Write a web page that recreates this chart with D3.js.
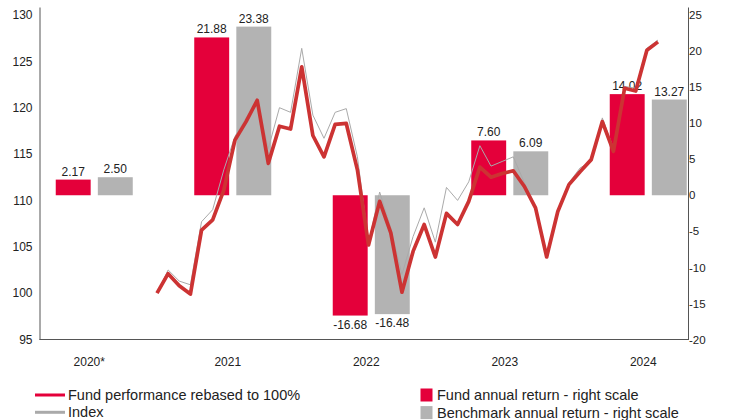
<!DOCTYPE html>
<html>
<head>
<meta charset="utf-8">
<script src="https://cdn.jsdelivr.net/npm/d3@7"></script>
<style>
  body { margin: 0; background: #fff; }
  svg { font-family: "Liberation Sans", Arial, sans-serif; display: block; }
</style>
</head>
<body>
<svg id="chart" width="729" height="420"></svg>
<script>
const years = ['2020*', '2021', '2022', '2023', '2024'];
const fundReturn = [2.17, 21.88, -16.68, 7.60, 14.02];
const benchReturn = [2.50, 23.38, -16.48, 6.09, 13.27];

// month-end points, Dec 2020 .. Sep 2024
const months = [
  '2020-12',
  '2021-01', '2021-02', '2021-03', '2021-04', '2021-05', '2021-06', '2021-07', '2021-08', '2021-09', '2021-10', '2021-11', '2021-12',
  '2022-01', '2022-02', '2022-03', '2022-04', '2022-05', '2022-06', '2022-07', '2022-08', '2022-09', '2022-10', '2022-11', '2022-12',
  '2023-01', '2023-02', '2023-03', '2023-04', '2023-05', '2023-06', '2023-07', '2023-08', '2023-09', '2023-10', '2023-11', '2023-12',
  '2024-01', '2024-02', '2024-03', '2024-04', '2024-05', '2024-06', '2024-07', '2024-08', '2024-09'
];
const fundLine = [
  100.0,
  102.1, 100.8, 99.9, 106.8, 107.9, 111.1, 116.5, 118.5, 120.8, 114.0, 118.0, 117.7,
  124.4, 117.0, 114.7, 118.2, 118.3, 113.3, 105.2, 109.9, 106.5, 100.1, 104.5, 107.4,
  103.9, 108.6, 107.4, 109.9, 113.6, 112.5, 112.9, 113.2, 111.5, 109.2, 103.9, 108.8,
  111.7, 113.1, 114.4, 118.5, 115.3, 122.1, 121.8, 126.2, 127.1
];
const indexLine = [
  100.0,
  102.5, 101.3, 100.9, 107.7, 109.0, 113.3, 116.9, 118.9, 120.8, 115.6, 120.0, 119.5,
  126.4, 119.2, 116.7, 119.5, 119.9, 114.7, 105.4, 110.9, 107.0, 102.0, 106.1, 109.2,
  105.5, 111.4, 110.0, 112.0, 115.9, 113.7, 114.2, 114.7, 111.9, 109.3, 104.3, 109.0,
  111.9, 113.5, 114.2, 118.9, 115.6, 122.3, 122.1, 126.4, 127.3
];

const leftTicks = [95, 100, 105, 110, 115, 120, 125, 130];
const rightTicks = [-20, -15, -10, -5, 0, 5, 10, 15, 20, 25];

const RED_BAR = '#e4003a';
const GREY_BAR = '#b3b3b3';
const FUND_LINE = '#cc3333';
const INDEX_LINE = '#aaaaaa';
const AXIS = '#555';

// plain hyphen minus, as in the original
const num = (v) => String(v);
const pct = (v) => v.toFixed(2);

const svg = d3.select('#chart');

const plot = { left: 39.5, right: 688, top: 7, bottom: 339.5 };

const yLeft = d3.scaleLinear().domain([95, 130.86]).range([plot.bottom, plot.top]);
const yRight = d3.scaleLinear().domain([-20, 26.1]).range([plot.bottom, plot.top]);

const x = d3.scaleBand().domain(years).range([25, 717.5]).paddingInner(0.444).paddingOuter(0.222);
const xSub = d3.scaleBand().domain(['fund', 'bench']).range([0, x.bandwidth()]).paddingInner(0.17);
const xLine = d3.scalePoint().domain(months).range([157, 658]);

// bars
const barRows = years.map((y, i) => ({ year: y, fund: fundReturn[i], bench: benchReturn[i] }));
const groups = svg.append('g')
  .selectAll('g')
  .data(barRows)
  .join('g')
  .attr('transform', (d) => `translate(${x(d.year)},0)`);

const series = [
  { key: 'fund', color: RED_BAR },
  { key: 'bench', color: GREY_BAR }
];

groups.selectAll('rect')
  .data((d) => series.map((s) => ({ key: s.key, color: s.color, value: d[s.key] })))
  .join('rect')
  .attr('x', (d) => xSub(d.key))
  .attr('width', xSub.bandwidth())
  .attr('y', (d) => yRight(Math.max(0, d.value)))
  .attr('height', (d) => Math.abs(yRight(d.value) - yRight(0)))
  .attr('fill', (d) => d.color);

groups.selectAll('text')
  .data((d) => series.map((s) => ({ key: s.key, value: d[s.key] })))
  .join('text')
  .attr('x', (d) => xSub(d.key) + xSub.bandwidth() / 2)
  .attr('y', (d) => (d.value >= 0 ? yRight(d.value) - 4 : yRight(d.value) + 13))
  .attr('text-anchor', 'middle')
  .attr('font-size', 12)
  .attr('fill', '#222')
  .text((d) => pct(d.value));

// lines
const line = (vals) => d3.line()
  .x((d, i) => xLine(months[i]))
  .y((d) => yLeft(d))(vals);

svg.append('path')
  .attr('d', line(indexLine))
  .attr('fill', 'none')
  .attr('stroke', INDEX_LINE)
  .attr('stroke-width', 1)
  .attr('stroke-linejoin', 'round');

svg.append('path')
  .attr('d', line(fundLine))
  .attr('fill', 'none')
  .attr('stroke', FUND_LINE)
  .attr('stroke-width', 3.7)
  .attr('stroke-linejoin', 'round');

// axes
const leftAxis = svg.append('g')
  .attr('transform', `translate(${plot.left},0)`)
  .call(d3.axisLeft(yLeft).tickValues(leftTicks).tickFormat(num).tickSize(0).tickPadding(7));
const rightAxis = svg.append('g')
  .attr('transform', `translate(${plot.right},0)`)
  .call(d3.axisRight(yRight).tickValues(rightTicks).tickFormat(num).tickSize(0).tickPadding(1));

[leftAxis, rightAxis].forEach((g) => {
  g.select('.domain').attr('stroke', AXIS);
  g.selectAll('text').attr('fill', '#222').attr('font-family', '"Liberation Sans", Arial, sans-serif');
});
leftAxis.selectAll('text').attr('font-size', 12);
rightAxis.selectAll('text').attr('font-size', 11.5);

svg.append('line')
  .attr('x1', plot.left)
  .attr('x2', plot.right)
  .attr('y1', plot.bottom)
  .attr('y2', plot.bottom)
  .attr('stroke', AXIS);

svg.append('g')
  .selectAll('text')
  .data(years)
  .join('text')
  .attr('x', (d) => x(d) + x.bandwidth() / 2 - 5)
  .attr('y', 366)
  .attr('text-anchor', 'middle')
  .attr('font-size', 12)
  .attr('fill', '#222')
  .text((d) => d);

// legend
const legendLines = [
  { label: 'Fund performance rebased to 100%', color: RED_BAR },
  { label: 'Index', color: INDEX_LINE }
];
const legendBars = [
  { label: 'Fund annual return - right scale', color: RED_BAR },
  { label: 'Benchmark annual return - right scale', color: GREY_BAR }
];

const legL = svg.append('g')
  .selectAll('g')
  .data(legendLines)
  .join('g')
  .attr('transform', (d, i) => `translate(35,${395 + i * 17.3})`);
legL.append('line')
  .attr('x1', 0).attr('x2', 30)
  .attr('stroke', (d) => d.color)
  .attr('stroke-width', 3);
legL.append('text')
  .attr('x', 33)
  .attr('dy', '0.35em')
  .attr('font-size', 14.5)
  .attr('fill', '#222')
  .text((d) => d.label);

const legR = svg.append('g')
  .selectAll('g')
  .data(legendBars)
  .join('g')
  .attr('transform', (d, i) => `translate(420.5,${395 + i * 17.6})`);
legR.append('rect')
  .attr('y', -6.5)
  .attr('width', 12)
  .attr('height', 13)
  .attr('fill', (d) => d.color);
legR.append('text')
  .attr('x', 16.5)
  .attr('dy', '0.35em')
  .attr('font-size', 14.5)
  .attr('fill', '#222')
  .text((d) => d.label);
</script>
</body>
</html>
